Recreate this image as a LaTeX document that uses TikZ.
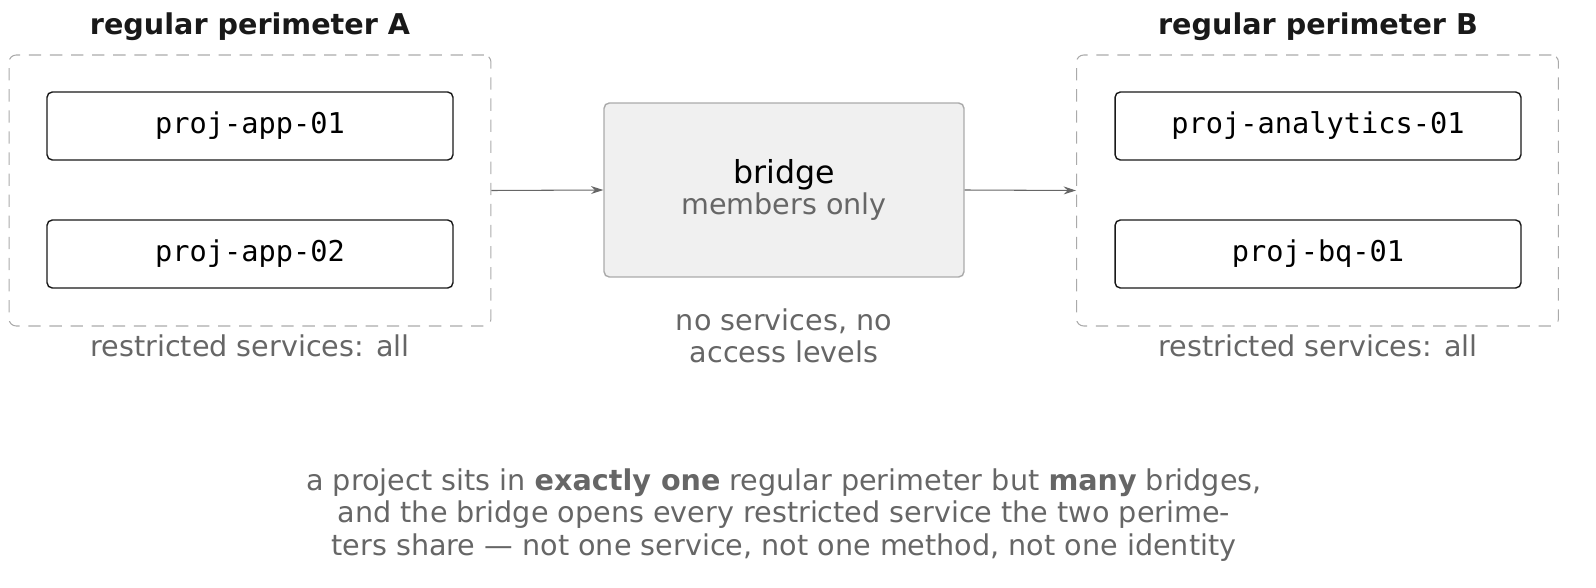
\documentclass[tikz,border=0pt]{standalone}
\usepackage{fontspec}
\setmainfont{DejaVu Sans}
\setmonofont{DejaVu Sans Mono}
\usetikzlibrary{positioning,arrows.meta}
\definecolor{txtgray}{HTML}{666666}
\definecolor{linegray}{HTML}{AAAAAA}
\tikzset{
  perim/.style={draw=linegray,semithick,dash pattern=on 7pt off 5pt,rounded corners=4pt,minimum width=9.64cm,minimum height=5.42cm},
  proj/.style={draw=black!90,thick,rounded corners=3pt,minimum width=8.12cm,minimum height=1.36cm,font=\ttfamily\fontsize{16.3}{18}\selectfont},
  title/.style={font=\bfseries\fontsize{16.3}{18}\selectfont,text=black!90},
  note/.style={text=txtgray,font=\fontsize{16.3}{18.5}\selectfont,align=center},
  link/.style={-{Stealth[length=7pt,width=4.5pt]},draw=txtgray,semithick}
}
\begin{document}
\begin{tikzpicture}[x=0.02cm,y=-0.02cm]
    \useasboundingbox (0,0) rectangle (1596,588);
    % Perimeter A
    \node[perim] (perA) at (250,190.5) {};
    \node[title] (titA) at (250,27) {regular perimeter A};
    \node[proj] (app1) at (250,126) {proj-app-01};
    \node[proj] (app2) at (250,254) {proj-app-02};
    \node[note] (resA) at (250,346) {restricted services: all};
    % Bridge
    \node[draw=linegray,thick,fill=black!6,rounded corners=3pt,minimum width=7.2cm,minimum height=3.48cm,align=center]
        (bridge) at (784,190) {{\fontsize{18}{20}\selectfont bridge}\\[1pt]{\color{txtgray}\fontsize{16.3}{18}\selectfont members only}};
    \node[note] (bnote) at (784,336) {no services, no\\access levels};
    % Perimeter B
    \node[perim] (perB) at (1317.5,190.5) {};
    \node[title] (titB) at (1318,27) {regular perimeter B};
    \node[proj] (ana1) at (1318,126) {proj-analytics-01};
    \node[proj] (bq1) at (1318,254) {proj-bq-01};
    \node[note] (resB) at (1318,346) {restricted services: all};
    % Links
    \draw[link] (perA.east) -- (bridge.west);
    \draw[link] (bridge.east) -- (perB.west);
    % Caption
    \node[note] (cap) at (784,515) {a project sits in \textbf{exactly one} regular perimeter but \textbf{many} bridges,\\and the bridge opens every restricted service the two perime-\\ters share — not one service, not one method, not one identity};
\end{tikzpicture}
\end{document}
